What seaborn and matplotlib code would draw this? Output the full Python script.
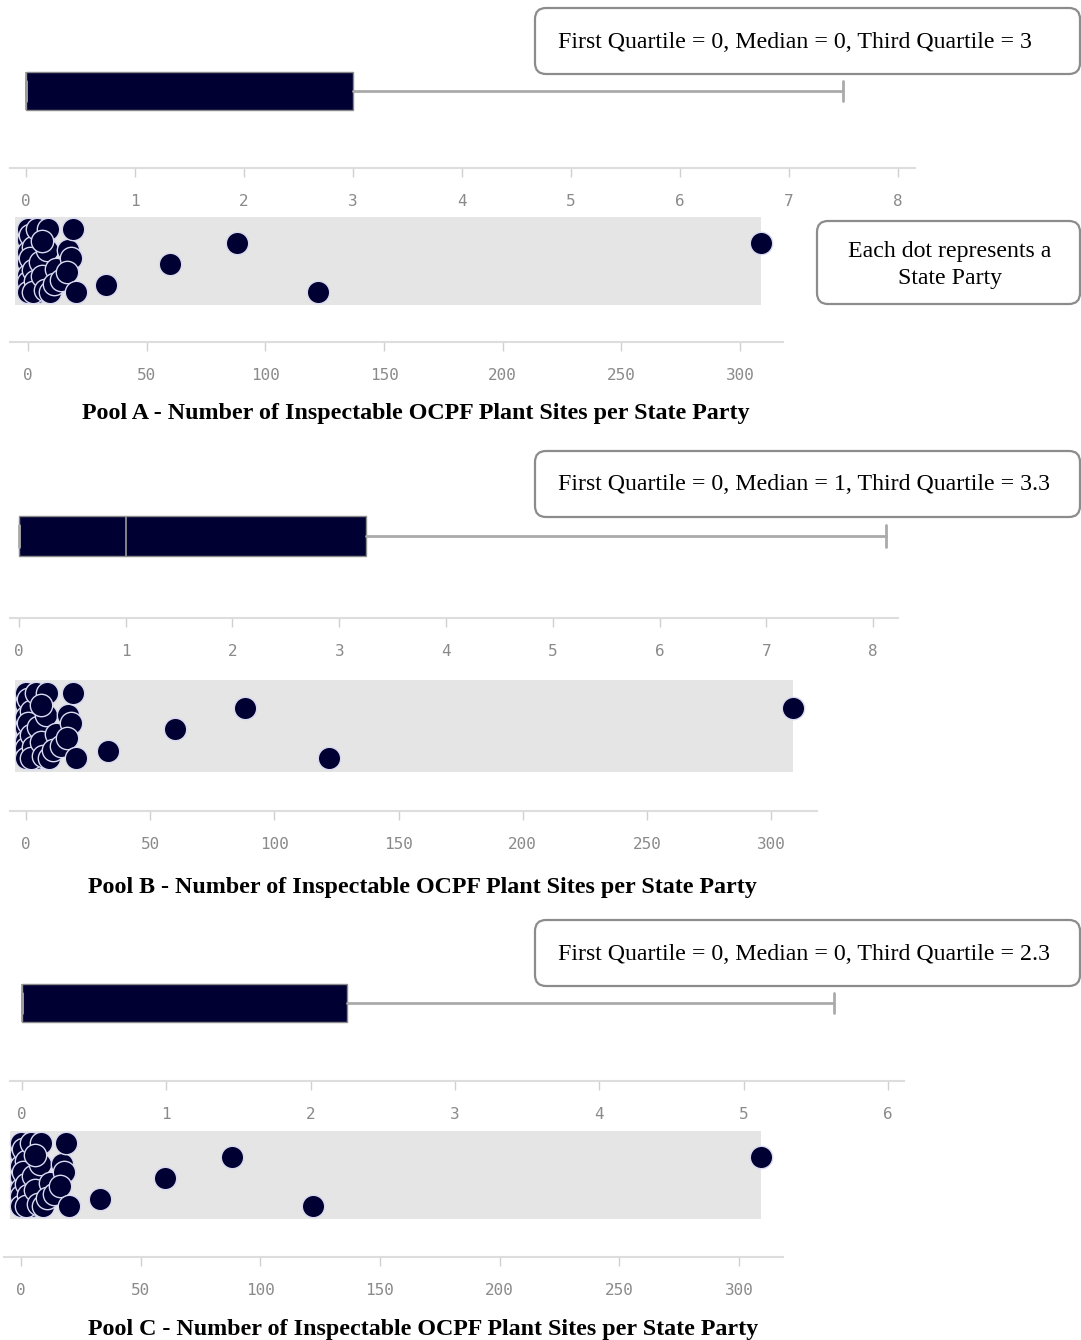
import numpy as np
import pandas as pd
import seaborn as sns
import matplotlib
matplotlib.use("Agg")
import matplotlib.pyplot as plt
from matplotlib.patches import FancyBboxPatch
from matplotlib.transforms import IdentityTransform

# ---------------- data ----------------
pools = ["Pool A", "Pool B", "Pool C"]
first_quartile = [0, 0, 0]
medians = [0, 1, 0]
third_quartile = [3, 3.25, 2.25]
third_quartile_label = ["3", "3.3", "2.3"]
upper_whisker = [7.5, 8.125, 5.625]
box_tick_max = [8, 8, 6]

# sites per State Party (visible dots) and their vertical lane in the band (0 top .. 1 bottom)
site_counts = [0, 0, 0, 0, 0, 0, 0,
               1, 2, 1, 2, 3, 4, 2,
               4, 5, 6, 7, 8.4, 8, 9.3, 6,
               12, 11, 14,
               17, 18, 16.4, 19, 20.2,
               33, 60, 88, 122, 309]
dot_lane = [0.14, 0.26, 0.40, 0.52, 0.66, 0.74, 0.85,
            0.21, 0.34, 0.47, 0.60, 0.73, 0.85, 0.85,
            0.14, 0.51, 0.67, 0.83, 0.14, 0.375, 0.85, 0.27,
            0.59, 0.76, 0.72,
            0.375, 0.47, 0.625, 0.14, 0.85,
            0.775, 0.535, 0.30, 0.85, 0.30]

W, H = 1081, 1340
NAVY = "#000033"

sns.set_theme(style="white")
plt.rcParams["font.family"] = ["DejaVu Sans"]

fig = plt.figure(figsize=(W / 100, H / 100), dpi=100)


def rect(left, top, right, bottom):
    return [left / W, 1 - bottom / H, (right - left) / W, (bottom - top) / H]


def style_axis(ax):
    for s in ["top", "left", "right"]:
        ax.spines[s].set_visible(False)
    ax.spines["bottom"].set_color("#dddddd")
    ax.spines["bottom"].set_linewidth(1.5)
    ax.set_yticks([])
    ax.tick_params(axis="x", length=6.5, width=1, color="#d0d0d0", pad=12,
                   labelsize=11.5, labelcolor="#8a8a8a", bottom=True)
    for lab in ax.get_xticklabels():
        lab.set_family("DejaVu Sans Mono")
    ax.set_xlabel("")
    ax.set_ylabel("")
    ax.patch.set_alpha(0)


# layout per panel (pixel geometry)
box_geom = [
    dict(rect=(10, 14, 915, 168), xlim=(-0.147, 8.156)),
    dict(rect=(10, 454, 898, 618), xlim=(-0.084, 8.234)),
    dict(rect=(10, 925, 904, 1081), xlim=(-0.083, 6.111)),
]
dot_geom = [
    dict(rect=(10, 217, 783, 342), xlim=(-7.58, 318.1), yb=125 / 88, band_lo=-5.5),
    dict(rect=(10, 680, 817, 811), xlim=(-6.44, 318.5), yb=131 / 92, band_lo=-4.4),
    dict(rect=(4, 1131, 783, 1257), xlim=(-7.1, 318.4), yb=126 / 88, band_lo=-4.6),
]
title_pos = [(416, 413), (422, 887), (423, 1329)]
note_box = [(535, 8, 1080, 74), (535, 451, 1080, 517), (535, 920, 1080, 986)]

for i, pool in enumerate(pools):
    # ---- box plot ----
    bg = box_geom[i]
    axb = fig.add_axes(rect(*bg["rect"]))
    stats = [dict(med=medians[i], q1=first_quartile[i], q3=third_quartile[i],
                  whislo=first_quartile[i], whishi=upper_whisker[i], fliers=[])]
    axb.bxp(stats, positions=[0], widths=0.49, orientation="horizontal",
            patch_artist=True, showfliers=False, capwidths=0.26,
            boxprops=dict(facecolor=NAVY, edgecolor="#8a8a8a", linewidth=1),
            whiskerprops=dict(color="#aaaaaa", linewidth=2),
            capprops=dict(color="#aaaaaa", linewidth=2),
            medianprops=dict(color="#9a9a9a", linewidth=1.2))
    axb.set_xlim(*bg["xlim"])
    axb.set_ylim(1, -1)
    axb.set_xticks(range(0, box_tick_max[i] + 1))
    axb.set_xticklabels([str(t) for t in range(0, box_tick_max[i] + 1)])
    style_axis(axb)

    # ---- dot plot ----
    dg = dot_geom[i]
    axd = fig.add_axes(rect(*dg["rect"]))
    df = pd.DataFrame({"sites": site_counts, "lane": dot_lane})
    axd.fill_between([dg["band_lo"], max(site_counts)], 0, 1, color="#e5e5e5", lw=0, zorder=0)
    sns.scatterplot(data=df, x="sites", y="lane", ax=axd, s=260, color=NAVY,
                    edgecolor="#d9d9ef", linewidth=1.0, zorder=3, legend=False)
    axd.set_xlim(*dg["xlim"])
    axd.set_ylim(dg["yb"], 0)
    axd.set_xticks(range(0, 301, 50))
    axd.set_xticklabels([str(t) for t in range(0, 301, 50)])
    style_axis(axd)

    # ---- title ----
    tx, ty = title_pos[i]
    fig.text(tx / W, 1 - ty / H,
             f"{pool} - Number of Inspectable OCPF Plant Sites per State Party",
             ha="center", va="center", fontsize=17.3, fontweight="bold",
             family="Liberation Serif", color="black")

    # ---- quartile note ----
    l, t, r, b = note_box[i]
    fig.add_artist(FancyBboxPatch((l, H - b), r - l, b - t,
                                  boxstyle="round,pad=0,rounding_size=11",
                                  transform=IdentityTransform(), facecolor="white",
                                  edgecolor="#8c8c8c", linewidth=1.6))
    fig.text(558 / W, 1 - ((t + b) / 2 + 1) / H,
             f"First Quartile = {first_quartile[i]}, Median = {medians[i]}, "
             f"Third Quartile = {third_quartile_label[i]}",
             ha="left", va="center", fontsize=17.2, family="Liberation Serif",
             color="black")

# "Each dot" note
l, t, r, b = 817, 221, 1080, 304
fig.add_artist(FancyBboxPatch((l, H - b), r - l, b - t,
                              boxstyle="round,pad=0,rounding_size=11",
                              transform=IdentityTransform(), facecolor="white",
                              edgecolor="#8c8c8c", linewidth=1.6))
fig.text(950 / W, 1 - 265 / H, "Each dot represents a\nState Party", ha="center",
         va="center", fontsize=17.2, family="Liberation Serif", color="black",
         linespacing=1.38)

fig.savefig("out.png", dpi=100)
